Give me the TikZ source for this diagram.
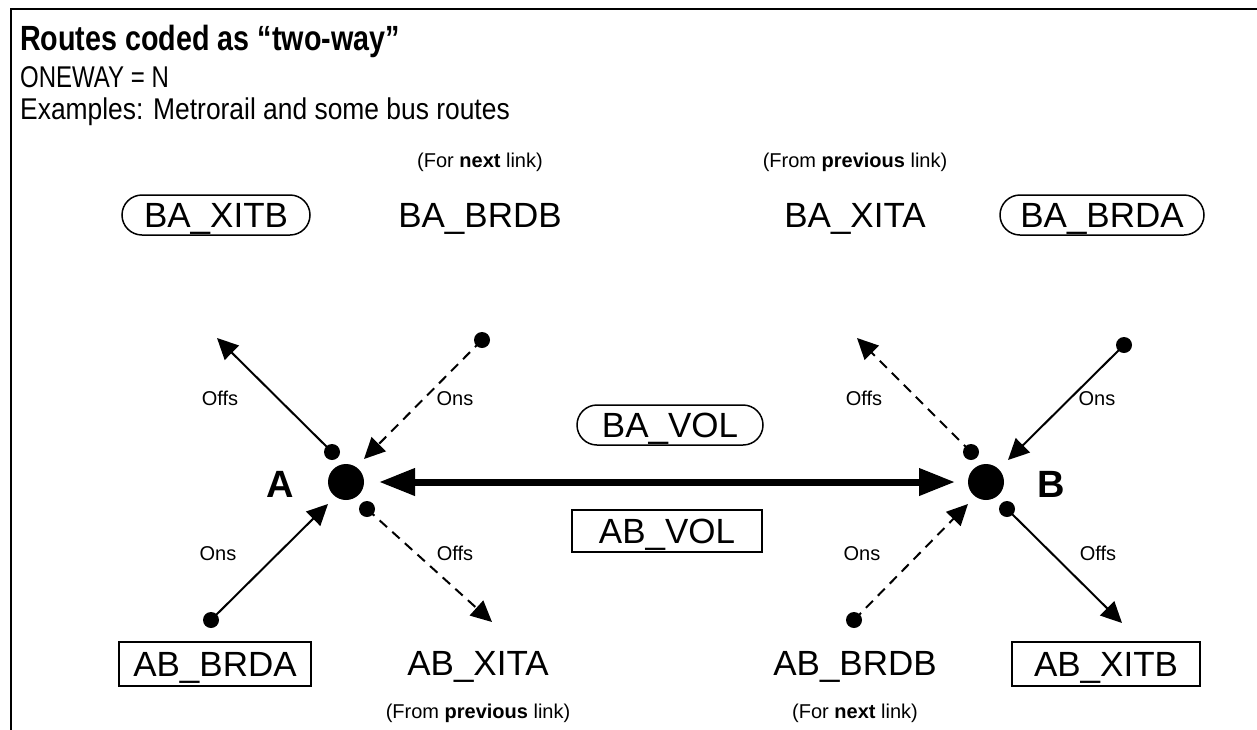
\documentclass[tikz,border=0pt]{standalone}
\usepackage{fontspec}
\setmainfont{Liberation Sans}
\newfontfamily\titlefont[FakeStretch=0.82]{Liberation Sans}
\newfontfamily\onewayfont[FakeStretch=0.8]{Liberation Sans}
\newfontfamily\exfont[FakeStretch=0.88]{Liberation Sans}
\usetikzlibrary{arrows.meta}
\begin{document}
\begin{tikzpicture}[x=1pt,y=-1pt,
  lbl/.style={font=\fontsize{35}{40}\selectfont, inner sep=0pt, text height=25pt, text depth=0pt},
  rbox/.style={lbl, draw, line width=1.5pt, rounded corners=20pt, minimum width=188pt, minimum height=40pt},
  sbox/.style={lbl, draw, line width=1.5pt, minimum width=192pt, minimum height=44pt},
  small/.style={font=\fontsize{20}{24}\selectfont, inner sep=0pt, text height=14.3pt, text depth=0pt},
  ptname/.style={font=\bfseries\fontsize{38}{40}\selectfont, inner sep=0pt, text height=27pt, text depth=0pt},
  bigdot/.style={circle, fill, inner sep=0pt, minimum size=36pt},
  tinydot/.style={circle, fill, inner sep=0pt, minimum size=16pt},
  conn/.style={line width=2pt, -{Triangle[length=21pt,width=20pt]}},
  dconn/.style={conn, dash pattern=on 10pt off 7pt},
  thick conn/.style={line width=7pt, {Triangle[length=36pt,width=26pt]}-{Triangle[length=36pt,width=26pt]}},
]
\useasboundingbox (0,0) rectangle (1257,729);
\fill[white] (0,0) rectangle (1257,729);
\coordinate (fb) at (11,740);
\coordinate (fr) at (1270,9);
\draw[line width=2pt] (fb) |- (fr);

\node[anchor=base west, font={\titlefont\fontsize{35}{40}\selectfont\bfseries}, inner sep=0pt] (title) at (20,50) {Routes coded as “two-way”};
\node[anchor=base west, font={\onewayfont\fontsize{30}{34}\selectfont}, inner sep=0pt] (oneway) at (20,87) {ONEWAY = N};
\node[anchor=base west, font={\exfont\fontsize{30}{34}\selectfont}, inner sep=0pt] (examples) at (20,119) {Examples: Metrorail and some bus routes};

% top row
\node[small] (nl1) at (480,160) {(For \textbf{next} link)};
\node[small] (pl1) at (855,160) {(From \textbf{previous} link)};
\node[rbox] (baxitb) at (216,215) {BA\_XITB};
\node[lbl] (babrdb) at (480,215) {BA\_BRDB};
\node[lbl] (baxita) at (855,215) {BA\_XITA};
\node[rbox, minimum width=204pt] (babrda) at (1102,215) {BA\_BRDA};

% side labels
\node[small] (o1) at (220,398) {Offs};
\node[small] (o2) at (455,398) {Ons};
\node[small] (o3) at (864,398) {Offs};
\node[small] (o4) at (1097,398) {Ons};
\node[small] (o5) at (218,553) {Ons};
\node[small] (o6) at (455,553) {Offs};
\node[small] (o7) at (862,553) {Ons};
\node[small] (o8) at (1098,553) {Offs};

% middle
\node[rbox, minimum width=186pt] (bavol) at (670,425) {BA\_VOL};
\node[sbox, minimum width=190pt, minimum height=42pt] (abvol) at (667,531) {AB\_VOL};
\node[ptname] (la) at (280,484) {A};
\node[ptname] (lb) at (1051,484) {B};

% bottom row
\node[sbox] (abbrda) at (215,664) {AB\_BRDA};
\node[lbl] (abxita) at (478,663) {AB\_XITA};
\node[lbl] (abbrdb) at (855,663) {AB\_BRDB};
\node[sbox, minimum width=188pt] (abxitb) at (1106,664) {AB\_XITB};
\node[small] (pl2) at (478,711) {(From \textbf{previous} link)};
\node[small] (nl2) at (855,711) {(For \textbf{next} link)};

% dots
\node[bigdot] (A) at (346,482) {};
\node[bigdot] (B) at (986,482) {};
\node[tinydot] (a1) at (332,452) {};
\node[tinydot] (a2) at (482,340) {};
\node[tinydot] (a3) at (211,620) {};
\node[tinydot] (a4) at (367,509) {};
\node[tinydot] (b1) at (971,452) {};
\node[tinydot] (b2) at (1124,345) {};
\node[tinydot] (b3) at (854,620) {};
\node[tinydot] (b4) at (1007,509) {};

\coordinate (ta1) at (217,338);
\coordinate (ta2) at (364,459);
\coordinate (ta3) at (328,504);
\coordinate (ta4) at (492,622);
\coordinate (tb1) at (857,338);
\coordinate (tb2) at (1008,460);
\coordinate (tb3) at (968,504);
\coordinate (tb4) at (1122,623);
\coordinate (tA) at (379,482);
\coordinate (tB) at (955,482);

\draw[conn] (a1.center) -- (ta1);
\draw[dconn] (a2.center) -- (ta2);
\draw[conn] (a3.center) -- (ta3);
\draw[dconn] (a4.center) -- (ta4);
\draw[dconn] (b1.center) -- (tb1);
\draw[conn] (b2.center) -- (tb2);
\draw[dconn] (b3.center) -- (tb3);
\draw[conn] (b4.center) -- (tb4);
\draw[thick conn] (tA) -- (tB);
\end{tikzpicture}
\end{document}
